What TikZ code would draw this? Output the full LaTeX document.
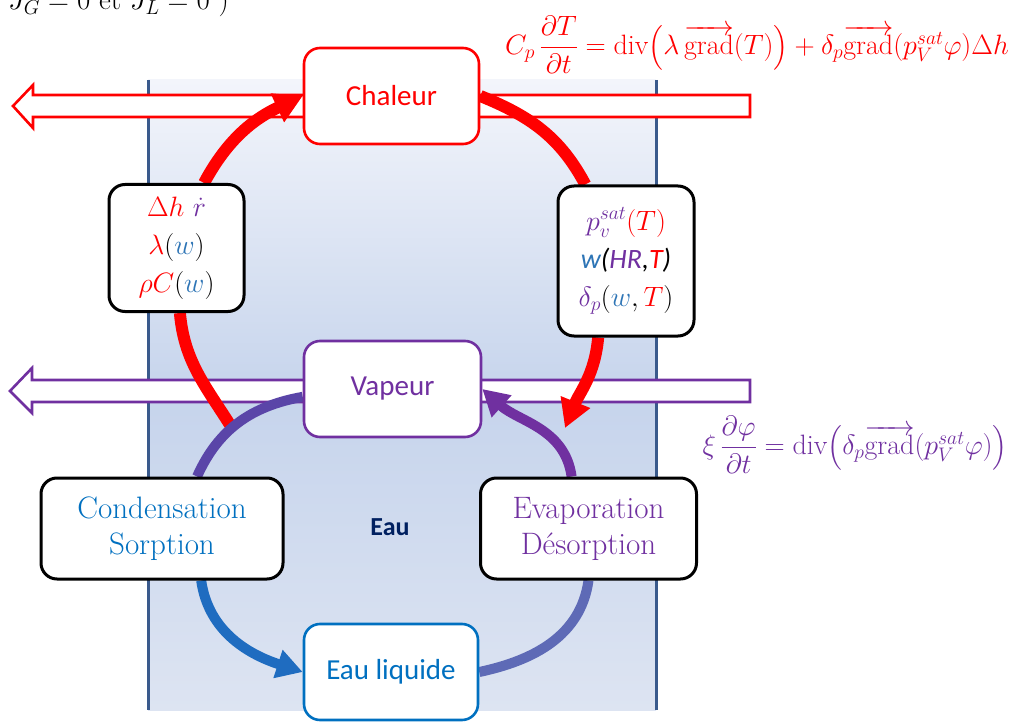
\RequirePackage{fix-cm}
\documentclass[tikz,border=0pt]{standalone}
\usepackage{fontspec}
\usepackage{amsmath}
\usepackage{xcolor}
\usetikzlibrary{arrows.meta,calc}
\newfontfamily\calibri{Carlito}
\definecolor{cred}{HTML}{FF0000}
\definecolor{cpurple}{HTML}{7030A0}
\definecolor{cblue}{HTML}{0070C0}
\definecolor{wblue}{HTML}{2E75B6}
\definecolor{cnavy}{HTML}{002060}
\definecolor{lineblue}{HTML}{3A5A8C}
\definecolor{panelTop}{HTML}{F3F5FB}
\definecolor{panelMid}{HTML}{C6D4EC}
\definecolor{panelBot}{HTML}{DDE4F2}
\definecolor{arcA}{HTML}{5A45A8}
\definecolor{arcB}{HTML}{1F6CC0}
\definecolor{arcC}{HTML}{5E6AB6}
\pgfdeclarelayer{back}
\pgfdeclarelayer{mid}
\pgfsetlayers{back,mid,main}
\tikzset{
  box/.style={draw, fill=white, rounded corners=16pt, line width=2.6pt, inner sep=0pt, align=center},
  lbl/.style={font=\calibri\fontsize{29}{34}\selectfont},
  hollow/.style={draw, fill=white, line width=2.6pt, line join=miter},
  redarc/.style={draw=cred, line width=12pt},
  wetarc/.style={line width=10pt},
  bigtip/.style={-{Triangle[length=28pt,width=30pt]}},
  midtip/.style={-{Triangle[length=26pt,width=28pt]}}
}
\begin{document}
\begin{tikzpicture}[x=1pt,y=-1pt]
\useasboundingbox (0,0) rectangle (1028,722);
\clip (0,0) rectangle (1028,722);

% nodes
\node[box, draw=cred, text=cred, lbl, minimum width=175pt, minimum height=96pt] (chal) at (391.5,96) {Chaleur};
\node[box, draw=cpurple, text=cpurple, lbl, minimum width=177pt, minimum height=96pt] (vap) at (392.5,389) {Vapeur};
\node[box, draw=cblue, text=cblue, lbl, minimum width=174pt, minimum height=96pt] (liq) at (391,672) {Eau liquide};
\node[box, draw=black, line width=3pt, text=cblue, font=\fontsize{31}{36}\selectfont, minimum width=242pt, minimum height=101pt] (cond) at (162,528.5) {Condensation\\Sorption};
\node[box, draw=black, line width=3pt, text=cpurple, font=\fontsize{31}{36}\selectfont, minimum width=216pt, minimum height=101pt] (evap) at (588.5,528.5) {Evaporation\\Désorption};
\node[box, draw=black, line width=3pt, font=\fontsize{28}{38}\selectfont, minimum width=135pt, minimum height=127pt] (lbox) at (176.5,248)
  {$\textcolor{cred}{\Delta h}\ \textcolor{cpurple}{\dot r}$\\$\textcolor{cred}{\lambda}(\textcolor{wblue}{w})$\\$\textcolor{cred}{\rho C}(\textcolor{wblue}{w})$};
\node[box, draw=black, line width=3pt, font=\fontsize{28}{38}\selectfont, minimum width=136pt, minimum height=150pt] (rbox) at (626,261)
  {$\textcolor{cpurple}{p_v^{sat}}\textcolor{cred}{(T)}$\\{\calibri\itshape\textcolor{wblue}{w}(\textcolor{cpurple}{HR},\textcolor{cred}{T})}\\$\textcolor{cpurple}{\delta_p}(\textcolor{wblue}{w},\textcolor{cred}{T})$};
\node[font=\calibri\bfseries\fontsize{26}{30}\selectfont, text=cnavy] (eau) at (390,527) {Eau};

% equations
\node[text=cred, font=\fontsize{28}{32}\selectfont] (eqT) at (757,45)
  {$C_p\,\dfrac{\partial T}{\partial t} = \mathrm{div}\bigl(\lambda\,\overrightarrow{\mathrm{grad}}(T)\bigr) + \delta_p\overrightarrow{\mathrm{grad}}(p_V^{sat}\varphi)\Delta h$};
\node[text=cpurple, font=\fontsize{28}{32}\selectfont] (eqP) at (855,445)
  {$\xi\,\dfrac{\partial\varphi}{\partial t} = \mathrm{div}\bigl(\delta_p\overrightarrow{\mathrm{grad}}(p_V^{sat}\varphi)\bigr)$};
\node[anchor=base west, font=\fontsize{29}{33}\selectfont, inner sep=0pt] (jtxt) at (8,10) {$J_G = 0$ et $J_L = 0$ )};

% background panel and hollow arrows
\begin{pgfonlayer}{back}
  \fill[top color=panelTop, bottom color=panelBot, middle color=panelMid] (148,80) rectangle (656,710);
  \draw[lineblue, line width=3pt] (148,80) -- (148,710);
  \draw[lineblue, line width=3pt] (656,80) -- (656,710);
  \path[hollow, draw=cred] (750,95) -- (33,95) -- (33,85) -- (13,106) -- (33,128) -- (33,117) -- (750,117) -- cycle;
  \path[hollow, draw=cpurple] (750,380) -- (32,380) -- (32,368) -- (10,391) -- (32,413) -- (32,402) -- (750,402) -- cycle;
\end{pgfonlayer}

% arcs
\coordinate (rtip) at (565,428);
\coordinate (lend) at (232,428);
\begin{pgfonlayer}{mid}
  \draw[redarc, bigtip] (lbox.67) to[out=62, in=205] (chal.west);
  \draw[redarc] (chal.east) to[out=-22, in=118] (rbox.118);
  \draw[redarc, bigtip] (rbox.250) to[out=-95, in=68] (rtip);
  \draw[redarc] (lbox.-87) to[out=-85, in=122] (lend);
  \draw[wetarc, draw=arcA] (vap.185) to[out=190, in=66] (cond.56);
  \draw[wetarc, draw=arcB, midtip] (cond.-53) to[out=-82, in=162] (liq.west);
  \draw[wetarc, draw=arcC] (liq.east) to[out=12, in=-98] (evap.south);
  \draw[wetarc, draw=cpurple, midtip] (evap.108) to[out=98, in=-42] (vap.east);
\end{pgfonlayer}
\end{tikzpicture}
\end{document}
